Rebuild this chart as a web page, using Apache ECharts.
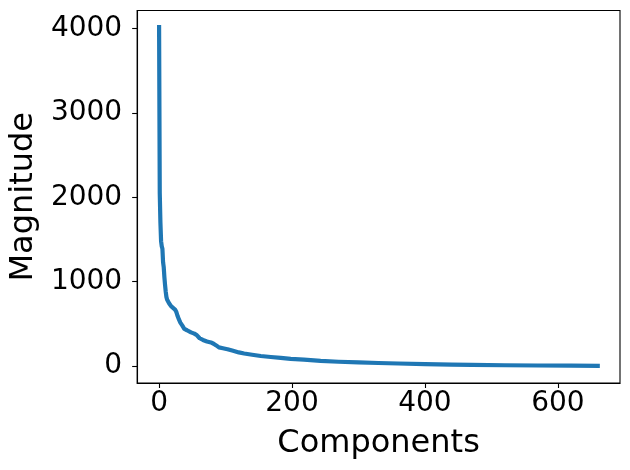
<!DOCTYPE html>
<html>
<head>
<meta charset="utf-8">
<script src="https://cdn.jsdelivr.net/npm/echarts@6/dist/echarts.min.js"></script>
<style>html,body{margin:0;padding:0;background:#fff}#c{width:630px;height:470px}</style>
</head>
<body>
<div id="c"></div>
<script>
// component index
const componentIdx = [0,1,2,3,4,5,6,7,8,9,10,11,12,13,15,18,21,24,26,28,30,32,35,38,42,48,53,57,61,66,72,78,82,86,90,96,103,110,113,120,128,140,153,168,183,198,218,243,270,300,330,360,400,440,470,520,570,620,660];
// magnitude (singular value)
const magnitude = [4015,2050,1700,1480,1420,1390,1230,1170,1050,960,880,820,790,770,745,710,690,670,640,590,550,515,480,440,425,400,385,365,330,310,292,280,265,245,222,212,200,185,170,162,150,135,120,108,98,85,77,62,52,44,37,31,24,18,14,10,7,5,3];
const xTicks = [0,200,400,600];
const yTicks = [0,1000,2000,3000,4000];

const data = componentIdx.map((x,i)=>[x, magnitude[i]]);
const font = 'DejaVu Sans';
const chart = echarts.init(document.getElementById('c'), null, {renderer:'canvas'});
chart.setOption({
  animation:false,
  grid:{left:136.5, right:10, top:10.5, bottom:87, show:true, borderColor:'#000', borderWidth:1.1, backgroundColor:'transparent'},
  xAxis:{
    type:'value', min:-33, max:693.5,
    name:'Components', nameLocation:'middle', nameGap:45,
    nameTextStyle:{fontFamily:font, fontSize:32, color:'#000'},
    axisLine:{show:true, onZero:false, lineStyle:{color:'#000', width:1.1}},
    axisTick:{show:true, inside:false, length:5, lineStyle:{color:'#000', width:1.1}, customValues:xTicks},
    axisLabel:{show:true, margin:7, fontFamily:font, fontSize:28, color:'#000', customValues:xTicks, formatter:v=>String(v)},
    splitLine:{show:false}
  },
  yAxis:{
    type:'value', min:-200, max:4212,
    name:'Magnitude', nameLocation:'middle', nameGap:88,
    nameTextStyle:{fontFamily:font, fontSize:32, color:'#000'},
    axisLine:{show:true, onZero:false, lineStyle:{color:'#000', width:1.1}},
    axisTick:{show:true, inside:false, length:5, lineStyle:{color:'#000', width:1.1}, customValues:yTicks},
    axisLabel:{show:true, margin:15, fontFamily:font, fontSize:28, color:'#000', customValues:yTicks, formatter:v=>String(v)},
    splitLine:{show:false}
  },
  series:[{
    type:'line', data:data, showSymbol:false, symbol:'none',
    lineStyle:{color:'#1f77b4', width:4.2, cap:'square', join:'round'},
    clip:true
  }]
});
</script>
</body>
</html>
